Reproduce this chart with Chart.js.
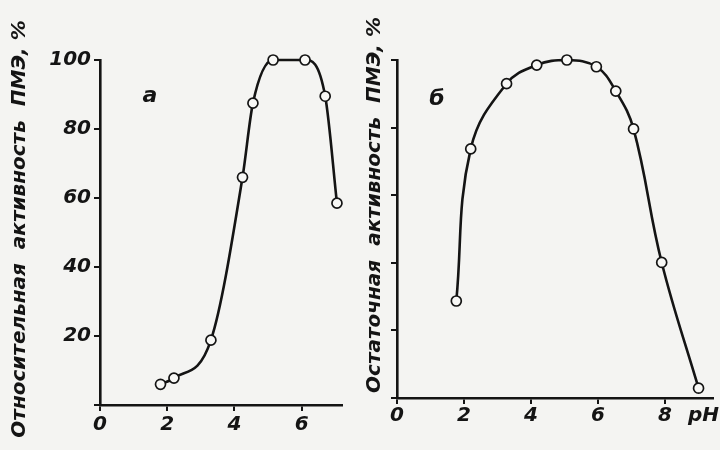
<!DOCTYPE html>
<html>
<head>
<meta charset="utf-8">
<script src="https://cdn.jsdelivr.net/npm/chart.js@4"></script>
<style>
  html, body { margin: 0; padding: 0; background: #f4f4f2; }
  #wrap { position: relative; width: 720px; height: 450px; overflow: hidden; }
  .panel { position: absolute; top: 0; width: 360px; height: 450px; }
  #pa { left: 0; }
  #pb { left: 360px; }
</style>
</head>
<body>
<div id="wrap">
  <div class="panel" id="pa"><canvas id="chart-a" width="360" height="450"></canvas></div>
  <div class="panel" id="pb"><canvas id="chart-b" width="360" height="450"></canvas></div>
</div>
<script>
// panel а: относительная активность
const phA = [1.8, 2.2, 3.3, 4.24, 4.55, 5.15, 6.1, 6.7, 7.05];
const actA = [6, 7.8, 18.8, 66, 87.5, 100, 100, 89.5, 58.5];
// panel б: остаточная активность
const phB = [1.77, 2.2, 3.27, 4.17, 5.07, 5.95, 6.53, 7.06, 7.9, 9.0];
const actB = [28.7, 73.7, 93, 98.5, 100, 98, 90.8, 79.6, 40.1, 2.9];

const xTicksA = [0, 2, 4, 6];
const xTicksB = [0, 2, 4, 6, 8];
const yTicks = [0, 20, 40, 60, 80, 100];
const phLabelAt = 9.15;

const ink = "#141414";
const tickFont = { family: "DejaVu Sans", size: 20, style: "italic", weight: "bold" };

// panel letter and rotated axis title
const textPlugin = (o) => ({
  id: "panelText",
  afterDraw(chart) {
    const c = chart.ctx;
    c.save();
    c.fillStyle = ink;
    c.textAlign = "center";
    c.textBaseline = "middle";
    c.font = "italic bold 22px 'DejaVu Sans'";
    c.fillText(o.letter, o.lx, o.ly);
    c.translate(o.tx, o.ty);
    c.rotate(-Math.PI / 2);
    c.font = "italic bold 20px 'DejaVu Sans'";
    c.fillText(o.title, 0, 0);
    c.restore();
  },
});

const makeChart = (id, xs, ys, xTicks, xMax, opts) => {
  return new Chart(document.getElementById(id), {
    type: "scatter",
    data: {
      datasets: [
        {
          data: xs.map((x, i) => ({ x: x, y: ys[i] })),
          showLine: true,
          cubicInterpolationMode: opts.mode,
          tension: 0.4,
          borderColor: ink,
          borderWidth: 2.6,
          pointRadius: 5,
          pointBackgroundColor: "#f8f8f6",
          pointBorderColor: ink,
          pointBorderWidth: 1.7,
          clip: false,
        },
      ],
    },
    options: {
      responsive: false,
      animation: false,
      layout: { padding: { top: 60, right: opts.padRight, left: 0, bottom: 0 } },
      plugins: { legend: { display: false }, tooltip: { enabled: false } },
      scales: {
        x: {
          type: "linear",
          min: 0,
          max: xMax,
          afterBuildTicks: (scale) => {
            scale.ticks = xTicks.map((v) => ({ value: v }));
          },
          afterFit: (scale) => {
            scale.height = opts.xHeight;
          },
          border: { color: ink, width: 2.6 },
          grid: {
            drawOnChartArea: false,
            tickLength: 6,
            lineWidth: 2,
            color: (ctx) => (ctx.tick && ctx.tick.value === phLabelAt ? "rgba(0,0,0,0)" : ink),
          },
          ticks: {
            color: ink,
            font: tickFont,
            padding: opts.xPad,
            maxRotation: 0,
            callback: (v) => (v === phLabelAt ? "pH" : v),
          },
        },
        y: {
          type: "linear",
          min: 0,
          max: 100,
          afterBuildTicks: (scale) => {
            scale.ticks = yTicks.map((v) => ({ value: v }));
          },
          afterFit: (scale) => {
            scale.width = opts.yWidth;
          },
          border: { color: ink, width: 2.6 },
          grid: { drawOnChartArea: false, tickLength: 6, lineWidth: 2, color: ink },
          ticks: {
            display: opts.yLabels,
            color: ink,
            font: tickFont,
            padding: 3,
            callback: (v) => (v === 0 ? "" : v),
          },
        },
      },
    },
    plugins: [textPlugin(opts)],
  });
};

makeChart("chart-a", phA, actA, xTicksA, 7.2, {
  mode: "monotone",
  padRight: 18,
  xHeight: 45,
  xPad: 2,
  yWidth: 100,
  yLabels: true,
  title: "Относительная  активность  ПМЭ, %",
  tx: 20,
  ty: 229,
  letter: "а",
  lx: 150,
  ly: 96,
});

makeChart("chart-b", phB, actB, xTicksB.concat([phLabelAt]), 9.44, {
  mode: "default",
  padRight: 5,
  xHeight: 52,
  xPad: 0,
  yWidth: 37,
  yLabels: false,
  title: "Остаточная  активность  ПМЭ, %",
  tx: 15,
  ty: 205,
  letter: "б",
  lx: 77,
  ly: 99,
});
</script>
</body>
</html>
